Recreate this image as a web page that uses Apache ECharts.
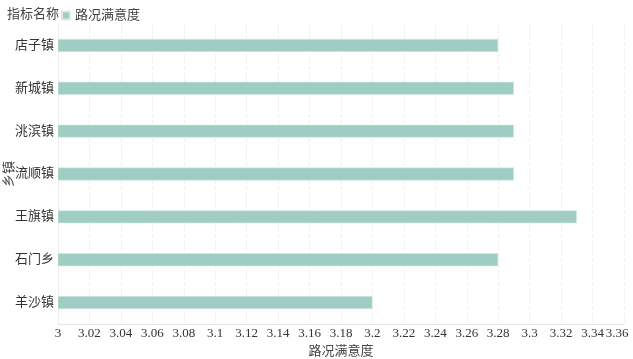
<!DOCTYPE html>
<html>
<head>
<meta charset="utf-8">
<script src="https://cdn.jsdelivr.net/npm/echarts@6/dist/echarts.min.js"></script>
<style>
  html, body { margin: 0; padding: 0; background: #fff; }
  #chart { width: 633px; height: 359px; }
</style>
</head>
<body>
<div id="chart"></div>
<script>
// 乡镇（自上而下）
const towns = ['店子镇', '新城镇', '洮滨镇', '流顺镇', '王旗镇', '石门乡', '羊沙镇'];
// 路况满意度
const roadScores = [3.28, 3.29, 3.29, 3.29, 3.33, 3.28, 3.2];
// x轴范围
const xMin = 3, xMax = 3.36, xStep = 0.02;

const fontFam = "'Liberation Serif', 'Noto Sans CJK SC', serif";
const chart = echarts.init(document.getElementById('chart'));

chart.setOption({
  textStyle: { fontFamily: fontFam },
  title: {
    text: '指标名称',
    left: 2,
    top: 3,
    textStyle: { fontSize: 13, fontWeight: 'normal', color: '#444', fontFamily: fontFam }
  },
  legend: {
    left: 56,
    top: 4,
    itemWidth: 8,
    itemHeight: 8,
    itemGap: 4,
    icon: 'rect',
    textStyle: { fontSize: 13, color: '#444', fontFamily: fontFam },
    data: ['路况满意度']
  },
  grid: { left: 58, right: 9, top: 24, bottom: 35, containLabel: false, outerBoundsMode: 'none' },
  xAxis: {
    type: 'value',
    min: xMin,
    max: xMax,
    interval: xStep,
    name: '路况满意度',
    nameLocation: 'middle',
    nameGap: 19,
    nameTextStyle: { fontSize: 13, color: '#444', fontFamily: fontFam },
    axisLine: { show: true, lineStyle: { color: '#e6e6e6' } },
    axisTick: { show: false },
    axisLabel: {
      fontSize: 13, color: '#333', margin: 3, fontFamily: fontFam,
      showMaxLabel: true, showMinLabel: true,
      // 最后一个标签向左挪一点，避免被裁掉
      formatter: v => {
        const s = String(+v.toFixed(2));
        return Math.abs(v - xMax) < 1e-9 ? '{m|' + s + '}' : s;
      },
      rich: {
        m: { fontSize: 13, color: '#333', fontFamily: fontFam, padding: [0, 14, 0, 0] }
      }
    },
    splitLine: { show: true, lineStyle: { color: '#f0f0f0', type: 'dashed' } }
  },
  yAxis: {
    type: 'category',
    inverse: true,
    data: towns,
    name: '乡镇',
    nameLocation: 'middle',
    nameGap: 42,
    nameRotate: 90,
    nameMoveOverlap: false,
    nameTextStyle: { fontSize: 13, color: '#444', fontFamily: fontFam },
    axisLine: { show: true, lineStyle: { color: '#ececec' } },
    axisTick: { show: false },
    axisLabel: { fontSize: 13, color: '#333', margin: 4, fontFamily: fontFam },
    splitLine: { show: false }
  },
  series: [{
    name: '路况满意度',
    type: 'bar',
    data: roadScores,
    barWidth: 13,
    itemStyle: { color: '#a0cdc3', borderColor: '#d8ece6', borderWidth: 0.6 }
  }]
});
</script>
</body>
</html>
